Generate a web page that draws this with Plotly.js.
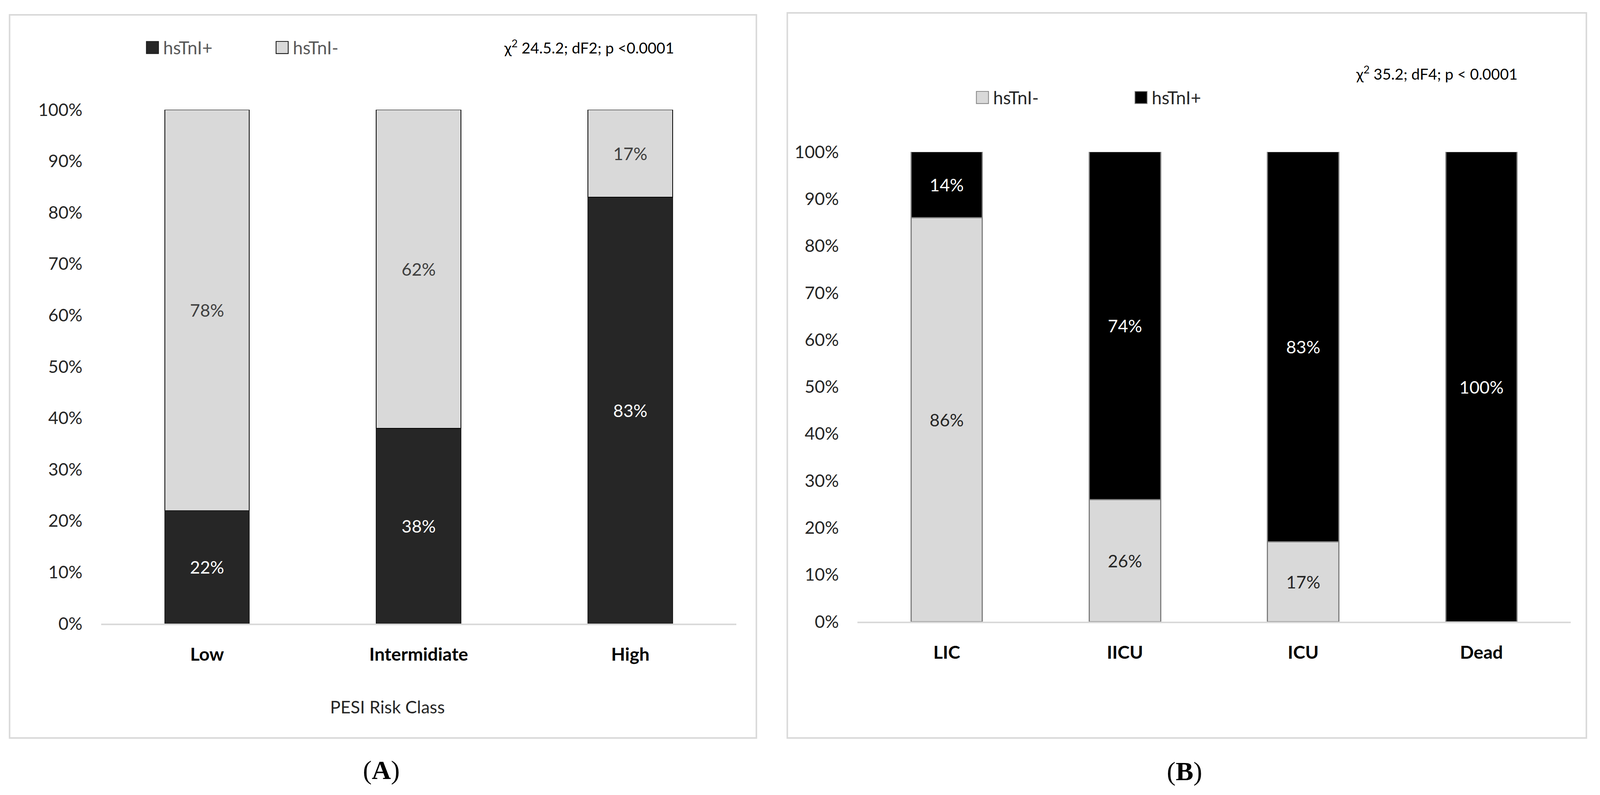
<!DOCTYPE html>
<html>
<head>
<meta charset="utf-8">
<script src="https://cdn.plot.ly/plotly-3.0.1.min.js"></script>
<style>
  html, body { margin: 0; padding: 0; background: #ffffff; overflow: hidden; }
  #chart { width: 100vw; height: 100vh; }
</style>
</head>
<body>
<div id="chart"></div>
<script>
// ---------- data ----------
const pesiCategories = ['Low', 'Intermidiate', 'High'];
const pesiPositive = [0.22, 0.38, 0.83];   // hsTnI+
const pesiNegative = [0.78, 0.62, 0.17];   // hsTnI-

const outcomeCategories = ['LIC', 'IICU', 'ICU', 'Dead'];
const outcomeNegative = [0.86, 0.26, 0.17, 0.00]; // hsTnI-
const outcomePositive = [0.14, 0.74, 0.83, 1.00]; // hsTnI+

const yTickValues = [0, 0.1, 0.2, 0.3, 0.4, 0.5, 0.6, 0.7, 0.8, 0.9, 1.0];

const seriesNames = { pos: 'hsTnI+', neg: 'hsTnI-' };
const statTextA = 'χ<sup>2</sup> 24.5.2; dF2; p <0.0001';
const statTextB = 'χ<sup>2</sup> 35.2; dF4; p < 0.0001';
const xTitleA = 'PESI Risk Class';
const captionA = '(<b>A</b>)';
const captionB = '(<b>B</b>)';

// ---------- helpers ----------
const REF_W = 4347, REF_H = 2036;
const W = window.innerWidth || REF_W;
const H = window.innerHeight || REF_H;
const S = Math.sqrt((W / REF_W) * (H / REF_H));   // css px per reference px
const sz = v => v * S;
const isz = v => Math.round(v * S);
const px = v => v / REF_W;
const py = v => 1 - v / REF_H;
const pctLabels = arr => arr.map(v => v > 0 ? Math.round(v * 100) + '%' : '');
const FONT = 'Lato, "Open Sans", sans-serif';
const SERIF = '"Liberation Serif", "Times New Roman", serif';

function barTrace(cats, vals, name, xa, ya, legend, fill, lineColor, lineWidth, textColor) {
  return {
    type: 'bar', x: cats, y: vals, name: name,
    xaxis: xa, yaxis: ya, legend: legend,
    marker: { color: fill, line: { color: lineColor, width: sz(lineWidth) } },
    text: pctLabels(vals), textposition: 'inside', insidetextanchor: 'middle',
    constraintext: 'none',
    textfont: { family: FONT, size: sz(46), color: textColor },
    hoverinfo: 'x+y+name'
  };
}

const traces = [
  barTrace(pesiCategories, pesiPositive, seriesNames.pos, 'x', 'y', 'legend', '#262626', '#1a1a1a', 2, '#ffffff'),
  barTrace(pesiCategories, pesiNegative, seriesNames.neg, 'x', 'y', 'legend', '#d9d9d9', '#000000', 2, '#404040'),
  barTrace(outcomeCategories, outcomeNegative, seriesNames.neg, 'x2', 'y2', 'legend2', '#d9d9d9', '#7f7f7f', 3, '#262626'),
  barTrace(outcomeCategories, outcomePositive, seriesNames.pos, 'x2', 'y2', 'legend2', '#000000', '#7f7f7f', 3, '#ffffff')
];

const xAxisCommon = {
  type: 'category', showline: true, linecolor: '#d9d9d9', linewidth: sz(4),
  ticks: '', showgrid: false, zeroline: false, fixedrange: true,
  tickfont: { family: FONT, size: sz(48), color: '#000000', weight: 'bold' },
  ticklabelstandoff: isz(36)
};
const yAxisCommon = {
  range: [0, 1], tickvals: yTickValues, tickformat: '.0%',
  showgrid: false, zeroline: false, showline: false, ticks: '', fixedrange: true,
  tickfont: { family: FONT, size: sz(46), color: '#262626' },
  ticklabelstandoff: isz(48)
};

const ITEM_W = Math.round(sz(46));
const legendCommon = {
  orientation: 'h', xanchor: 'left', yanchor: 'middle',
  bgcolor: 'rgba(0,0,0,0)', traceorder: 'normal', entrywidthmode: 'pixels',
  itemwidth: ITEM_W
};

const layout = {
  width: W, height: H,
  margin: { l: 0, r: 0, t: 0, b: 0 },
  paper_bgcolor: '#ffffff', plot_bgcolor: 'rgba(0,0,0,0)',
  barmode: 'stack', bargap: 0.6,
  showlegend: true,
  font: { family: FONT, color: '#262626' },
  legend: Object.assign({}, legendCommon, {
    x: px(385), y: py(122), entrywidth: Math.round(sz(342) - ITEM_W - 15),
    font: { family: FONT, size: sz(47), color: '#595959' }
  }),
  legend2: Object.assign({}, legendCommon, {
    x: px(2640), y: py(250), entrywidth: Math.round(sz(418) - ITEM_W - 15),
    font: { family: FONT, size: sz(47), color: '#262626' }
  }),
  xaxis: Object.assign({}, xAxisCommon, { domain: [px(275), px(2000)], anchor: 'y' }),
  yaxis: Object.assign({}, yAxisCommon, { domain: [py(1597), py(281)], anchor: 'x' }),
  xaxis2: Object.assign({}, xAxisCommon, { domain: [px(2330), px(4267)], anchor: 'y2' }),
  yaxis2: Object.assign({}, yAxisCommon, { domain: [py(1592), py(389)], anchor: 'x2' }),
  shapes: [
    { type: 'rect', xref: 'paper', yref: 'paper', x0: px(26), x1: px(2055), y0: py(1890), y1: py(38),
      line: { color: '#d9d9d9', width: sz(4) }, fillcolor: 'rgba(0,0,0,0)', layer: 'below' },
    { type: 'rect', xref: 'paper', yref: 'paper', x0: px(2139), x1: px(4310), y0: py(1890), y1: py(33),
      line: { color: '#d9d9d9', width: sz(4) }, fillcolor: 'rgba(0,0,0,0)', layer: 'below' }
  ],
  annotations: [
    { text: statTextA, xref: 'paper', yref: 'paper', x: px(1834), y: py(120),
      xanchor: 'right', yanchor: 'middle', showarrow: false,
      font: { family: FONT, size: sz(40), color: '#000000' } },
    { text: statTextB, xref: 'paper', yref: 'paper', x: px(4125), y: py(186),
      xanchor: 'right', yanchor: 'middle', showarrow: false,
      font: { family: FONT, size: sz(40), color: '#000000' } },
    { text: xTitleA, xref: 'paper', yref: 'paper', x: px(1053), y: py(1810),
      xanchor: 'center', yanchor: 'middle', showarrow: false,
      font: { family: FONT, size: sz(46), color: '#262626' } },
    { text: captionA, xref: 'paper', yref: 'paper', x: px(1036), y: py(1972),
      xanchor: 'center', yanchor: 'middle', showarrow: false,
      font: { family: SERIF, size: sz(70), color: '#000000' } },
    { text: captionB, xref: 'paper', yref: 'paper', x: px(3218), y: py(1975),
      xanchor: 'center', yanchor: 'middle', showarrow: false,
      font: { family: SERIF, size: sz(70), color: '#000000' } }
  ]
};

Plotly.newPlot('chart', traces, layout, { staticPlot: true, displayModeBar: false }).then(gd => {
  // enlarge the legend swatches to the reference's large square keys (position kept by Plotly)
  const a = (16 * S).toFixed(2);
  gd.querySelectorAll('g.legend .legendpoints path, g.legend2 .legendpoints path').forEach(p => {
    p.setAttribute('d', 'M' + a + ',' + a + 'H-' + a + 'V-' + a + 'H' + a + 'Z');
    p.style.strokeWidth = Math.max(1, 2 * S) + 'px';
  });
});
</script>
</body>
</html>
